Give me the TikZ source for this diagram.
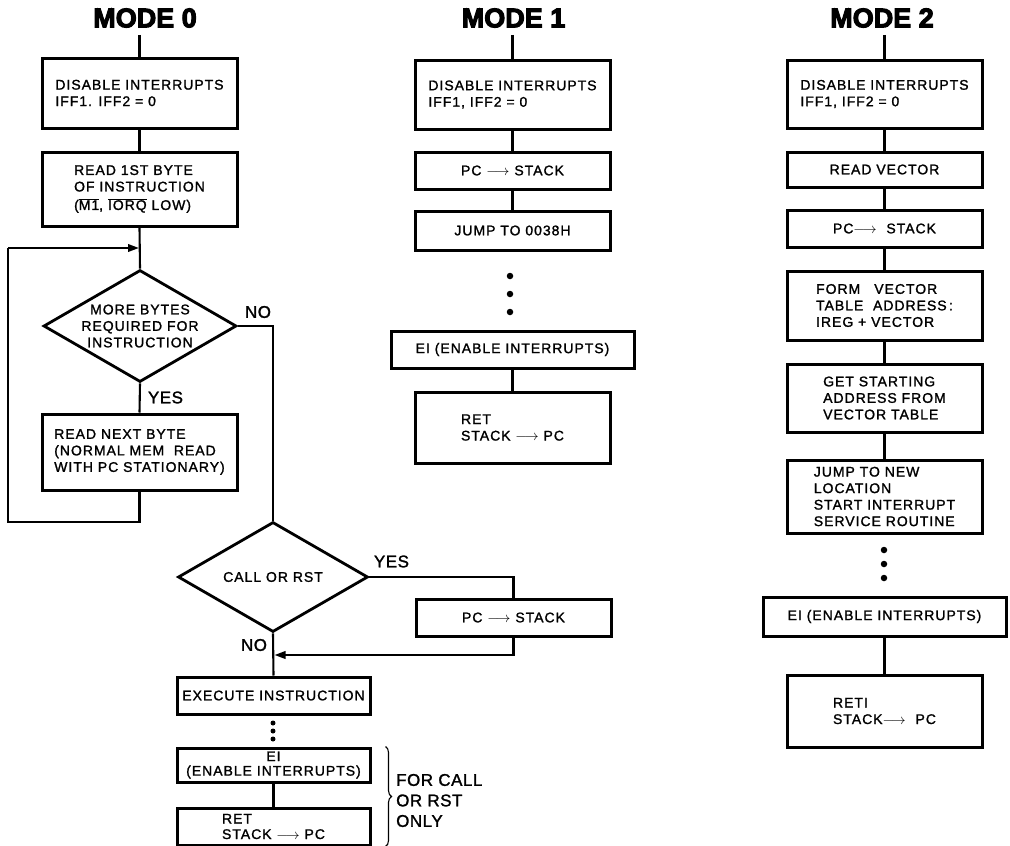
\documentclass[tikz,border=0pt]{standalone}
\usepackage{fontspec}
\setmainfont{Liberation Sans}
\newfontfamily\bodyfam[LetterSpace=7,FakeBold=1.4]{Liberation Sans}
\newfontfamily\titlefam[FakeBold=4]{Liberation Sans Bold}
\newfontfamily\lblfam[LetterSpace=3,FakeBold=1.4]{Liberation Sans}
\newcommand\mybody{\bodyfam\fontsize{14}{16.5}\selectfont}
\newcommand\mytitle{\titlefam\fontsize{27}{30}\selectfont}
\newcommand\mylbl{\lblfam\fontsize{17}{20.5}\selectfont}
\newcommand\ovl[1]{$\overline{\mbox{#1}}$}
\newcommand\rarr{$\longrightarrow$}
\usetikzlibrary{arrows.meta,decorations.pathreplacing,shapes.geometric}
\tikzset{
  box/.style={draw, line width=3pt, rectangle, minimum width=195pt, inner sep=0pt, align=left, font=\mybody},
  dia/.style={draw, line width=2.8pt, diamond, inner sep=0pt},
  dlbl/.style={align=center, font=\mybody},
  title/.style={font=\mytitle, inner sep=7pt},
  lbl/.style={font=\mylbl, inner sep=0pt},
  conn/.style={line width=2.1pt},
  arr/.style={line width=2.1pt, -{Triangle[length=11pt,width=7.5pt]}},
  dotbig/.style={circle, fill, inner sep=0pt, minimum size=6.5pt},
  dotsmall/.style={circle, fill, inner sep=0pt, minimum size=5pt},
  bracestyle/.style={line width=1.1pt, decorate, decoration={brace, amplitude=6pt}}
}
\begin{document}
\begin{tikzpicture}[x=1pt,y=-1pt]
\useasboundingbox (0,0) rectangle (1010,846);

% ---------------- MODE 0 ----------------
\node[title] (t0) at (145,18) {MODE 0};
\node[box, minimum height=70pt] (a1) at (139.5,93) {DISABLE INTERRUPTS\\IFF1. IFF2 = 0};
\node[box, minimum height=74pt] (a2) at (139.5,189) {READ 1ST BYTE\\OF INSTRUCTION\\[2pt](\ovl{M1}, \ovl{IORQ} LOW)};
\node[dia, minimum width=193pt, minimum height=112pt,
      label={[dlbl]center:MORE BYTES\\REQUIRED FOR\\INSTRUCTION}] (q1) at (140,326) {};
\node[box, minimum height=76pt] (a3) at (139.5,452) {READ NEXT BYTE\\(NORMAL MEM\ \ READ\\WITH PC STATIONARY)};
\node[dia, minimum width=190pt, minimum height=110pt,
      label={[dlbl]center:CALL OR RST}] (q2) at (273,577) {};
\node[box, minimum height=37pt] (a4) at (513.5,617.5) {PC \rarr\ STACK};
\node[box, minimum width=193pt, minimum height=37pt] (a5) at (273.5,695.5) {EXECUTE INSTRUCTION};
\node[dotsmall] (e1) at (273,723) {};
\node[dotsmall] (e2) at (273,731) {};
\node[dotsmall] (e3) at (273,739) {};
\node[box, minimum width=193pt, minimum height=34pt, align=center] (a6) at (273.5,765) {EI\\[-2pt](ENABLE INTERRUPTS)};
\node[box, minimum width=193pt, minimum height=37pt] (a7) at (273.5,826.5) {RET\\[-1pt]STACK \rarr\ PC};

\node[lbl] (no1) at (258,312) {NO};
\node[lbl] (yes1) at (165.5,397.5) {YES};
\node[lbl] (yes2) at (391.5,561.5) {YES};
\node[lbl] (no2) at (254,645) {NO};
\node[lbl, anchor=west, align=left] (fc) at (396,800.5) {FOR CALL\\OR RST\\ONLY};

\coordinate (lpA) at (8,522);
\coordinate (lpB) at (8,248);
\coordinate (mg1) at (139,248);
\coordinate (mg2) at (274.5,655);

\draw[conn] (a1.north |- t0.south) -- (a1.north);
\draw[conn] (a1.south) -- (a2.north);
\draw[conn] (a2.south) -- (q1.north);
\draw[conn] (q1.south) -- (a3.north);
\draw[conn] (a3.south) |- (lpA) -- (lpB);
\draw[arr] (lpB) -- (mg1);
\draw[conn] (q1.east) -| (q2.north);
\draw[conn] (q2.east) -| (a4.north);
\draw[arr] (a4.south) |- (mg2);
\draw[conn] (q2.south) -- (a5.north);
\draw[conn] (a6.south) -- (a7.north);
\draw[bracestyle] ([xshift=14pt]a6.north east) -- ([xshift=14pt]a7.south east);

% ---------------- MODE 1 ----------------
\node[title] (t1) at (513.5,18) {MODE 1};
\node[box, minimum height=69pt] (b1) at (512.5,94.5) {DISABLE INTERRUPTS\\IFF1, IFF2 = 0};
\node[box, minimum height=37pt] (b2) at (512.5,170.5) {PC \rarr\ STACK};
\node[box, minimum height=39pt] (b3) at (512.5,230.5) {JUMP TO 0038H};
\node[dotbig] (f1) at (510,276) {};
\node[dotbig] (f2) at (510,294) {};
\node[dotbig] (f3) at (510,312) {};
\node[box, minimum width=243pt, minimum height=37pt] (b4) at (512.5,349.5) {EI (ENABLE INTERRUPTS)};
\node[box, minimum height=71pt] (b5) at (512.5,427.5) {RET\\STACK \rarr\ PC};

\draw[conn] (b1.north |- t1.south) -- (b1.north);
\draw[conn] (b1.south) -- (b2.north);
\draw[conn] (b2.south) -- (b3.north);
\draw[conn] (b4.south) -- (b5.north);

% ---------------- MODE 2 ----------------
\node[title] (t2) at (882,18) {MODE 2};
\node[box, minimum height=68pt] (c1) at (884.5,94) {DISABLE INTERRUPTS\\IFF1, IFF2 = 0};
\node[box, minimum height=35pt] (c2) at (884.5,169.5) {READ VECTOR};
\node[box, minimum height=37pt] (c3) at (884.5,228.5) {PC\rarr\ \ STACK};
\node[box, minimum height=69pt] (c4) at (884.5,305.5) {FORM\quad VECTOR\\TABLE\ \ ADDRESS\,:\\IREG + VECTOR};
\node[box, minimum height=68pt] (c5) at (884.5,398) {GET STARTING\\ADDRESS FROM\\VECTOR TABLE};
\node[box, minimum height=73pt] (c6) at (884.5,496.5) {JUMP TO NEW\\LOCATION\\START INTERRUPT\\SERVICE ROUTINE};
\node[dotbig] (g1) at (884,550) {};
\node[dotbig] (g2) at (884,564) {};
\node[dotbig] (g3) at (884,578) {};
\node[box, minimum width=243pt, minimum height=39pt] (c7) at (884.5,616.5) {EI (ENABLE INTERRUPTS)};
\node[box, minimum height=72pt] (c8) at (884.5,711) {RETI\\STACK\rarr\ \ PC};

\draw[conn] (c1.north |- t2.south) -- (c1.north);
\draw[conn] (c1.south) -- (c2.north);
\draw[conn] (c2.south) -- (c3.north);
\draw[conn] (c3.south) -- (c4.north);
\draw[conn] (c4.south) -- (c5.north);
\draw[conn] (c5.south) -- (c6.north);
\draw[conn] (c7.south) -- (c8.north);
\end{tikzpicture}
\end{document}
